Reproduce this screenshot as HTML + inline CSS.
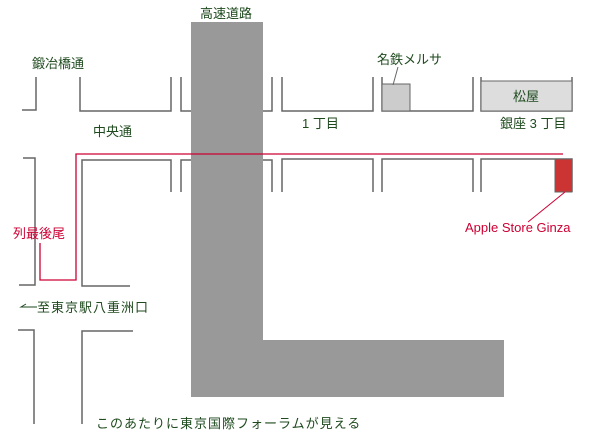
<!DOCTYPE html>
<html><head><meta charset="utf-8"><style>
html,body{margin:0;padding:0;background:#fff;}
svg{display:block;}
text{font-family:"Liberation Sans","Noto Sans CJK JP",sans-serif;font-size:13px;fill:#1e4a1e;}
</style></head><body>
<svg width="600" height="444" viewBox="0 0 600 444" xmlns="http://www.w3.org/2000/svg">
<g fill="none" stroke="#666" stroke-width="1.5">
<polyline points="36,77 36,110 22,110"/>
<polyline points="80,77 80,111 171,111 171,77"/>
<polyline points="181,77 181,111 191,111"/>
<polyline points="272,77 272,111 263,111"/>
<polyline points="282,77 282,111 373,111 373,77"/>
<polyline points="382,77 382,111 473,111 473,77"/>
<polyline points="481,77 481,111 572,111 572,77"/>
<polyline points="23,158 35,158 35,285 19,285"/>
<polyline points="171,192 171,160 82,160 82,286 130,286"/>
<polyline points="181,192 181,160 191,160"/>
<polyline points="272,192 272,160 263,160"/>
<polyline points="282,192 282,159 373,159 373,192"/>
<polyline points="382,192 382,159 473,159 473,192"/>
<polyline points="481,192 481,159 572,159 572,192"/>
<polyline points="18,330 34,330 34,424"/>
<polyline points="82,424 82,331 133,331"/>
</g>
<path d="M191,22 H263 V340 H504 V397 H191 Z" fill="#999"/>
<rect x="382" y="84" width="28" height="27" fill="#ccc" stroke="#666" stroke-width="1"/>
<rect x="481" y="81" width="91" height="30" fill="#ddd" stroke="#666" stroke-width="1"/>
<rect x="555" y="159" width="17" height="33" fill="#cc3333" stroke="#666" stroke-width="1"/>
<polyline points="563,154 76,154 76,280 40,280 40,243" fill="none" stroke="#cc0033" stroke-width="1.3"/>
<line x1="565" y1="192" x2="528" y2="222" stroke="#cc0033" stroke-width="1"/>
<line x1="398" y1="67" x2="393" y2="85" stroke="#666" stroke-width="1"/>
<polyline points="26,304 21,307 37,307" fill="none" stroke="#1e4a1e" stroke-width="1"/>
<text x="200" y="18">高速道路</text>
<text x="32" y="68">鍛冶橋通</text>
<text x="93" y="136">中央通</text>
<text x="377" y="64">名鉄メルサ</text>
<text x="513" y="101">松屋</text>
<text x="302" y="128">1 丁目</text>
<text x="500" y="128">銀座 3 丁目</text>
<text x="13" y="238" style="fill:#cc0033">列最後尾</text>
<text x="465" y="232" style="fill:#cc0033">Apple Store Ginza</text>
<text x="37" y="312" style="letter-spacing:1px">至東京駅八重洲口</text>
<text x="96" y="428" style="letter-spacing:1px">このあたりに東京国際フォーラムが見える</text>
</svg>
</body></html>
